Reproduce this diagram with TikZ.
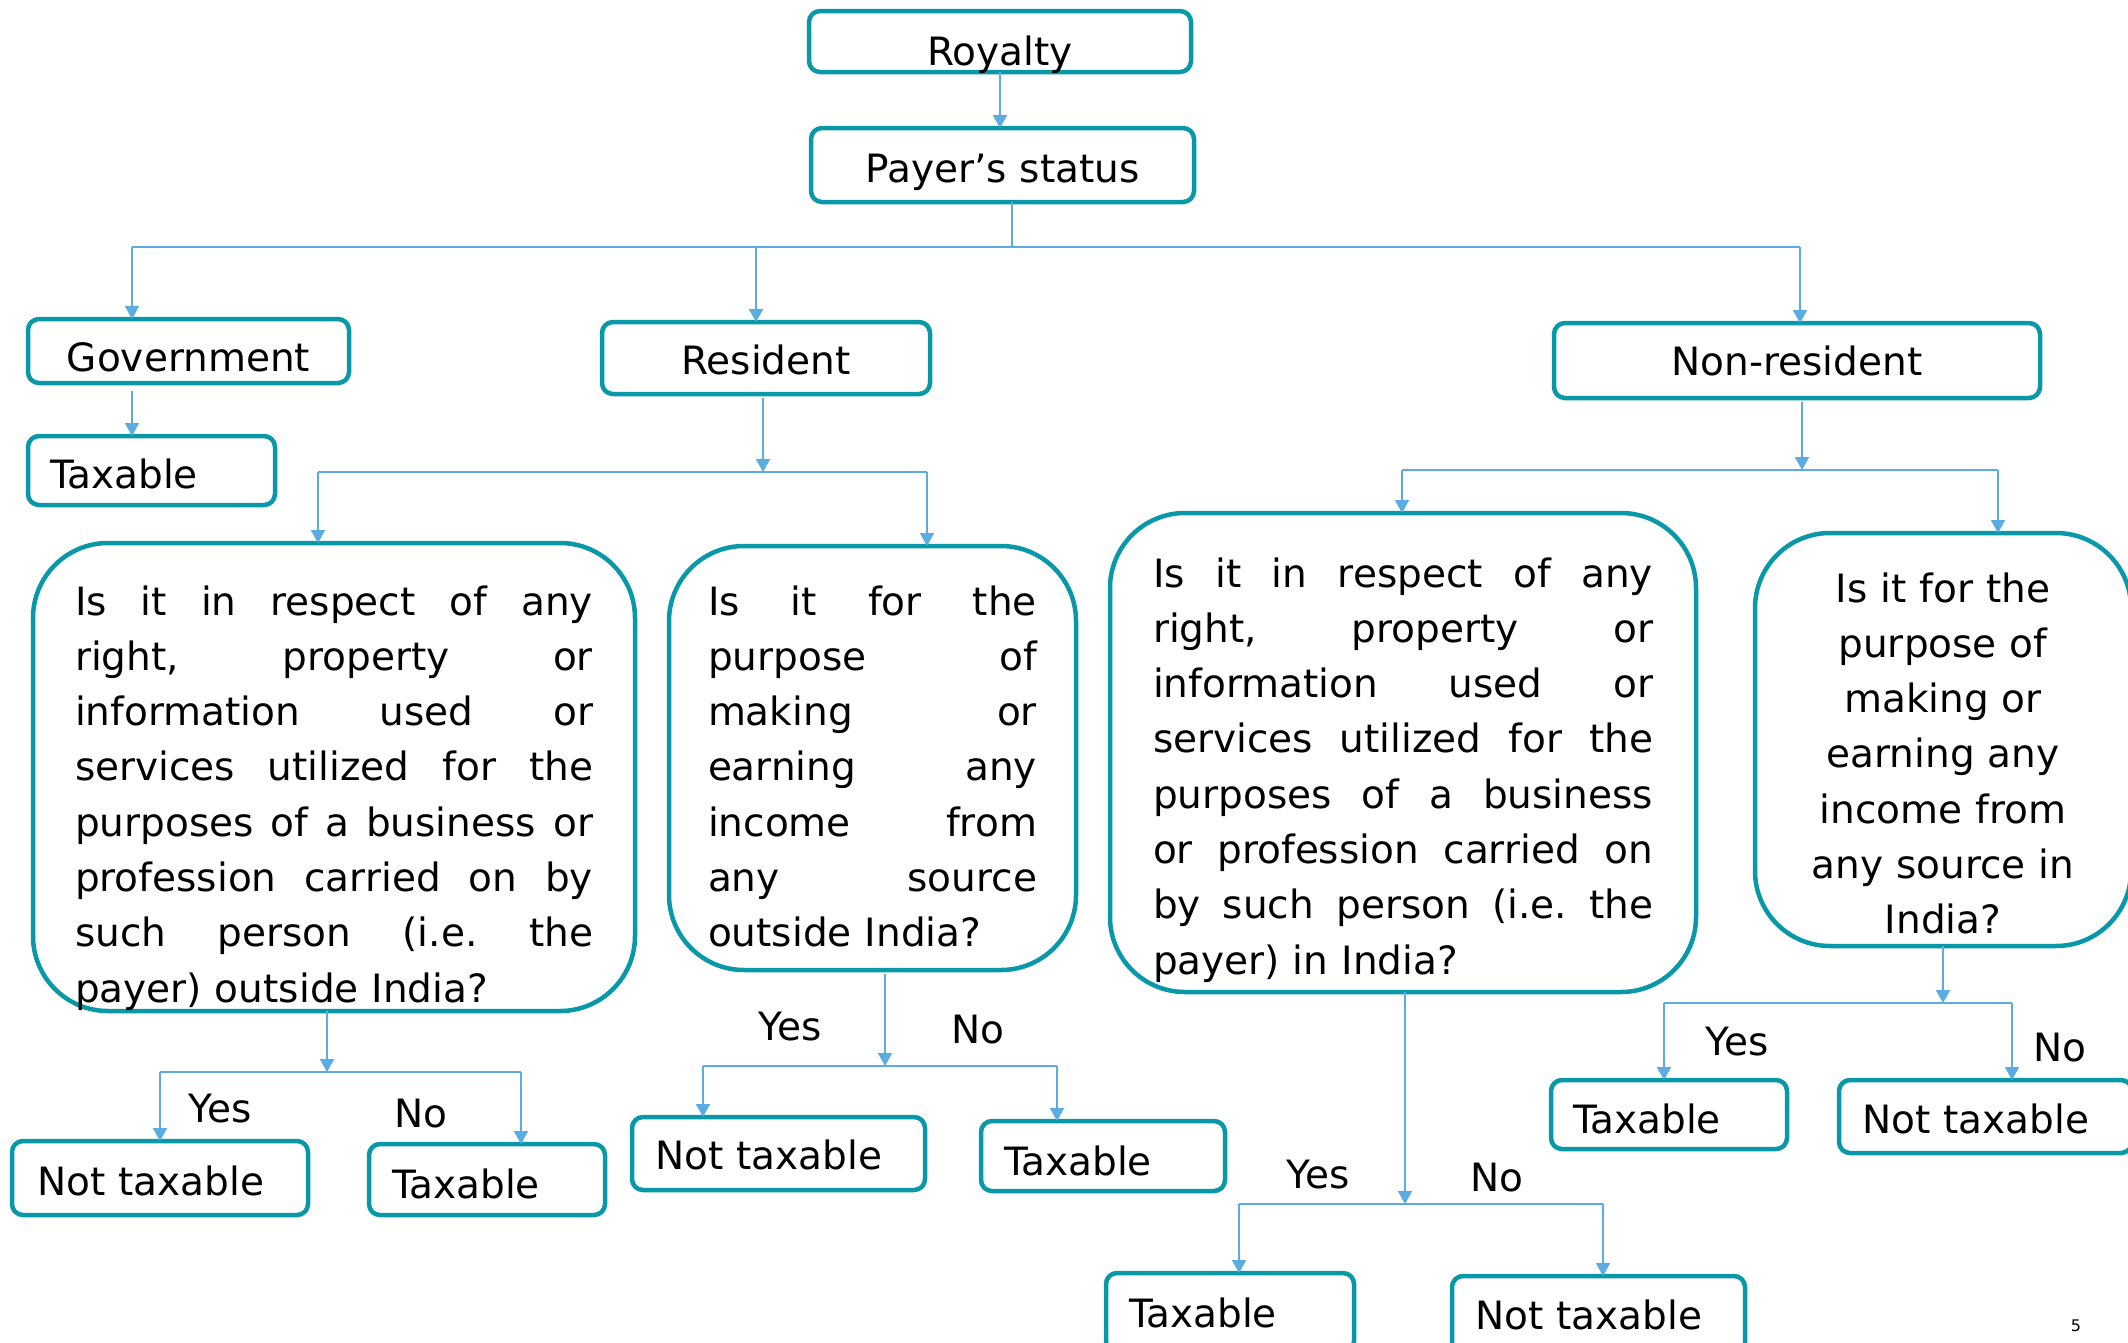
\documentclass[tikz,border=0pt]{standalone}
\usepackage{fontspec}
\setmainfont{DejaVu Sans}
\usetikzlibrary{arrows.meta}
\definecolor{bord}{RGB}{8,152,168}
\definecolor{conn}{RGB}{91,172,226}
\newcommand\mainfs{\fontsize{39}{55.3}\selectfont}
\newcommand\jl[2]{\leavevmode\hbox to #1pt{\frenchspacing\spaceskip=0.32em plus 30em\relax #2}}
\newcommand\mybox[9]{%
 \pgfmathsetmacro\bxw{#5-#3-2*#7}%
 \pgfmathsetmacro\bxh{#8-#4}%
 \pgfmathsetmacro\bxd{#6-#8}%
 \node[#1, inner xsep=#7pt, text width=\bxw pt, text height=\bxh pt, text depth=\bxd pt] (#2) at (#3,#4) {#9};}
\tikzset{
 bx/.style={draw=bord, line width=4.5pt, rounded corners=11pt, inner ysep=0pt, outer sep=0pt, anchor=north west, align=left, font=\mainfs},
 qbx/.style={bx, rounded corners=75pt},
 cbx/.style={bx, align=center},
 arr/.style={draw=conn, line width=2pt, -{Triangle[length=13pt,width=14pt]}},
 bus/.style={draw=conn, line width=2pt},
 lbl/.style={font=\mainfs, inner sep=0pt},
}
\begin{document}
\begin{tikzpicture}[x=1pt,y=-1pt]
\useasboundingbox (0,0) rectangle (2128,1342);
% boxes
\mybox{cbx}{roy}{809}{11}{1191}{72}{10}{65}{Royalty}
\mybox{cbx}{pay}{811}{128}{1194}{202}{10}{182}{Payer’s status}
\mybox{cbx}{gov}{28}{319}{349}{383}{10}{371}{Government}
\mybox{bx}{gtax}{28}{436}{275}{505}{22}{488}{Taxable}
\mybox{cbx}{res}{602}{322}{930}{394}{10}{374}{Resident}
\mybox{cbx}{nres}{1554}{323}{2040}{398}{10}{375}{Non-resident}
\mybox{qbx}{q1}{33}{543}{635}{1011}{42}{615}{\jl{518}{Is it in respect of any}\\
\jl{518}{right, property or}\\
\jl{518}{information used or}\\
\jl{518}{services utilized for the}\\
\jl{518}{purposes of a business or}\\
\jl{518}{profession carried on by}\\
\jl{518}{such person (i.e. the}\\
payer) outside India?}
\mybox{qbx}{q2}{669}{546}{1076}{970}{39}{615}{\jl{329}{Is it for the}\\
\jl{329}{purpose of}\\
\jl{329}{making or}\\
\jl{329}{earning any}\\
\jl{329}{income from}\\
\jl{329}{any source}\\
outside India?}
\mybox{qbx}{q3}{1110}{513}{1696}{992}{43}{587}{\jl{500}{Is it in respect of any}\\
\jl{500}{right, property or}\\
\jl{500}{information used or}\\
\jl{500}{services utilized for the}\\
\jl{500}{purposes of a business}\\
\jl{500}{or profession carried on}\\
\jl{500}{by such person (i.e. the}\\
payer) in India?}
\mybox{qbx,align=center}{q4}{1755}{533}{2131}{946}{20}{602}{Is it for the\\
purpose of\\
making or\\
earning any\\
income from\\
any source in\\
India?}
\mybox{bx}{r1y}{12}{1141}{308}{1215}{25}{1195}{Not taxable}
\mybox{bx}{r1n}{369}{1144}{605}{1215}{23}{1198}{Taxable}
\mybox{bx}{r2y}{632}{1117}{925}{1190}{23}{1169}{Not taxable}
\mybox{bx}{r2n}{981}{1121}{1225}{1191}{23}{1175}{Taxable}
\mybox{bx}{n1y}{1106}{1273}{1354}{1352}{23}{1327}{Taxable}
\mybox{bx}{n1n}{1452}{1276}{1745}{1354}{23}{1329}{Not taxable}
\mybox{bx}{n2y}{1551}{1080}{1787}{1149}{22}{1133}{Taxable}
\mybox{bx}{n2n}{1839}{1080}{2132}{1153}{23}{1133}{Not taxable}
% top connectors
\coordinate (bL) at (132,247);
\coordinate (bP) at (1012,247);
\coordinate (bM) at (756,247);
\coordinate (bR) at (1800,247);
\draw[arr] (roy.south) -- (pay.north -| roy.south);
\draw[bus] (pay.south -| bP) -- (bP);
\draw[bus] (bL) -- (bR);
\draw[arr] (bL) -- (bL |- gov.north);
\draw[arr] (bM) -- (bM |- res.north);
\draw[arr] (bR) -- (bR |- nres.north);
\draw[arr, shorten <=8pt] (gov.south -| bL) -- (gtax.north -| bL);
% resident
\coordinate (rj) at (763,472);
\coordinate (rL) at (318,472);
\coordinate (rR) at (927,472);
\draw[arr, shorten <=4pt] (res.south -| rj) -- (rj);
\draw[bus] (rL) -- (rR);
\draw[arr] (rL) -- (rL |- q1.north);
\draw[arr] (rR) -- (rR |- q2.north);
% non-resident
\coordinate (nj) at (1802,470);
\coordinate (nL) at (1402,470);
\coordinate (nR) at (1998,470);
\draw[arr, shorten <=4pt] (nres.south -| nj) -- (nj);
\draw[bus] (nL) -- (nR);
\draw[arr] (nL) -- (nL |- q3.north);
\draw[arr] (nR) -- (nR |- q4.north);
% q1
\coordinate (j1) at (327,1072);
\coordinate (j1L) at (160,1072);
\coordinate (j1R) at (521,1072);
\draw[arr] (q1.south -| j1) -- (j1);
\draw[bus] (j1L) -- (j1R);
\draw[arr] (j1L) -- (j1L |- r1y.north);
\draw[arr] (j1R) -- (j1R |- r1n.north);
% q2
\coordinate (j2) at (885,1066);
\coordinate (j2L) at (703,1066);
\coordinate (j2R) at (1057,1066);
\draw[arr, shorten <=4pt] (q2.south -| j2) -- (j2);
\draw[bus] (j2L) -- (j2R);
\draw[arr] (j2L) -- (j2L |- r2y.north);
\draw[arr] (j2R) -- (j2R |- r2n.north);
% q3
\coordinate (j3) at (1405,1204);
\coordinate (j3L) at (1239,1204);
\coordinate (j3R) at (1603,1204);
\draw[arr] (q3.south -| j3) -- (j3);
\draw[bus] (j3L) -- (j3R);
\draw[arr] (j3L) -- (j3L |- n1y.north);
\draw[arr] (j3R) -- (j3R |- n1n.north);
% q4
\coordinate (j4) at (1943,1003);
\coordinate (j4L) at (1664,1003);
\coordinate (j4R) at (2012,1003);
\draw[arr] (q4.south -| j4) -- (j4);
\draw[bus] (j4L) -- (j4R);
\draw[arr] (j4L) -- (j4L |- n2y.north);
\draw[arr] (j4R) -- (j4R |- n2n.north);
% labels
\node[lbl] (y1) at (220,1109) {Yes};
\node[lbl] (no1) at (421,1114) {No};
\node[lbl] (y2) at (790,1027) {Yes};
\node[lbl] (no2) at (978,1030) {No};
\node[lbl] (y3) at (1318,1175) {Yes};
\node[lbl] (no3) at (1497,1178) {No};
\node[lbl] (y4) at (1737,1042) {Yes};
\node[lbl] (no4) at (2060,1048) {No};
\node[font=\fontsize{16}{18}\selectfont, inner sep=0pt] (pg) at (2076,1326) {5};
\end{tikzpicture}
\end{document}
